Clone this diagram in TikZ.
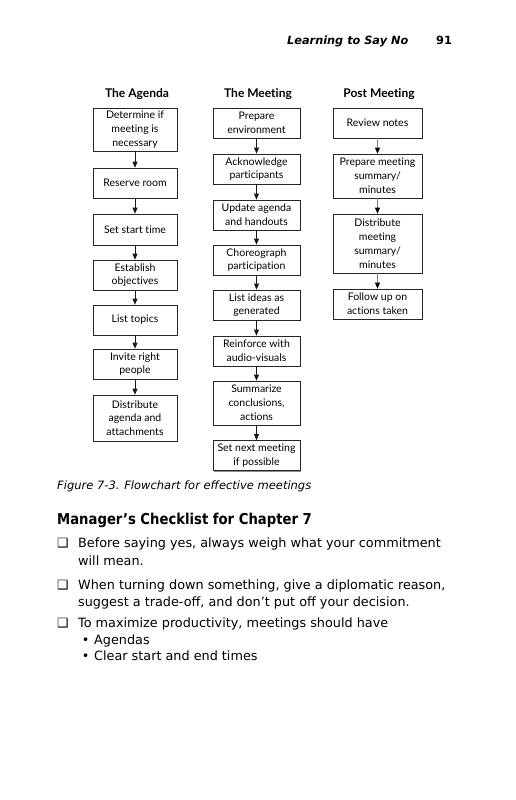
\documentclass[tikz,border=0pt]{standalone}
\usepackage{fontspec}
\setmainfont{DejaVu Sans}
\newfontfamily\boxfont[Ligatures={NoCommon,NoContextual}]{Lato}
\newfontfamily\headfont[FakeStretch=0.88]{DejaVu Sans}
\usetikzlibrary{arrows.meta,shadows}
\begin{document}
\begin{tikzpicture}[x=1pt,y=-1pt,
  fbox/.style={draw=black!85, line width=0.7pt, fill=white, inner sep=0pt, align=center,
    font=\boxfont\fontsize{10.5}{13.8}\selectfont,
    drop shadow={shadow xshift=1.3pt, shadow yshift=-1.3pt, fill=black!45, opacity=1}},
  acol/.style={fbox, minimum width=84pt},
  mcol/.style={fbox, minimum width=87pt},
  pcol/.style={fbox, minimum width=89pt},
  arr/.style={line width=0.8pt, draw=black!90, -{Triangle[width=5pt,length=6pt]}},
  parr/.style={arr, draw=black!50, -{Triangle[width=5pt,length=6pt,fill=black,color=black]}},
  coltitle/.style={anchor=base, inner sep=0pt, font=\boxfont\bfseries\fontsize{12}{14}\selectfont},
  txt/.style={anchor=base west, inner sep=0pt},
  body/.style={txt, font=\fontsize{12.8}{15}\selectfont}
]
\useasboundingbox (0,0) rectangle (516,800);
\fill[white] (0,0) rectangle (516,800);

% running head
\node[txt, font=\bfseries\itshape\fontsize{11.3}{13}\selectfont] (head) at (287,45) {Learning to Say No};
\node[txt, font=\bfseries\fontsize{11.3}{13}\selectfont] (pnum) at (436,45) {91};

% column titles
\node[coltitle] (t1) at (137,97.5) {The Agenda};
\node[coltitle] (t2) at (258,97.5) {The Meeting};
\node[coltitle] (t3) at (379,97.5) {Post Meeting};

% The Agenda
\node[acol, minimum height=43pt] (a1) at (135,129.5) {Determine if\\meeting is\\necessary};
\node[acol, minimum height=30pt] (a2) at (135,183) {Reserve room};
\node[acol, minimum height=31pt] (a3) at (135,229.5) {Set start time};
\node[acol, minimum height=30pt] (a4) at (135,275) {Establish\\objectives};
\node[acol, minimum height=30pt] (a5) at (135,320) {List topics};
\node[acol, minimum height=30pt] (a6) at (135,364) {Invite right\\people};
\node[acol, minimum height=46pt] (a7) at (135,418) {Distribute\\agenda and\\attachments};

% The Meeting
\node[mcol, minimum height=30pt] (m1) at (256.5,123) {Prepare\\environment};
\node[mcol, minimum height=30pt] (m2) at (256.5,169) {Acknowledge\\participants};
\node[mcol, minimum height=30pt] (m3) at (256.5,215) {Update agenda\\and handouts};
\node[mcol, minimum height=30pt] (m4) at (256.5,260) {Choreograph\\participation};
\node[mcol, minimum height=30pt] (m5) at (256.5,305) {List ideas as\\generated};
\node[mcol, minimum height=30pt] (m6) at (256.5,351) {Reinforce with\\audio-visuals};
\node[mcol, minimum height=44pt] (m7) at (256.5,403) {Summarize\\conclusions,\\actions};
\node[mcol, minimum height=30pt] (m8) at (256.5,455.5) {Set next meeting\\if possible};

% Post Meeting
\node[pcol, minimum height=30pt] (p1) at (377.5,123) {Review notes};
\node[pcol, minimum height=44pt] (p2) at (377.5,176) {Prepare meeting\\summary/\\minutes};
\node[pcol, minimum height=59pt] (p3) at (377.5,243.5) {Distribute\\meeting\\summary/\\minutes};
\node[pcol, minimum height=30pt] (p4) at (377.5,304) {Follow up on\\actions taken};

% arrows
\foreach \a/\b in {a1/a2,a2/a3,a3/a4,a4/a5,a5/a6,a6/a7,
                   m1/m2,m2/m3,m3/m4,m4/m5,m5/m6,m6/m7,m7/m8}
  \draw[arr] (\a) -- (\b);
\foreach \a/\b in {p1/p2,p2/p3,p3/p4}
  \draw[parr] (\a) -- (\b);

% caption
\node[txt, font=\itshape\fontsize{11.5}{13}\selectfont] (cap) at (57,489) {Figure 7-3. Flowchart for effective meetings};

% checklist
\node[txt, font=\headfont\bfseries\fontsize{15}{18}\selectfont] (chk) at (57,524) {Manager’s Checklist for Chapter 7};

\node[body] (c1) at (57,547) {❑};
\node[body] (l1) at (78,547) {Before saying yes, always weigh what your commitment};
\node[body] (l2) at (78,565) {will mean.};
\node[body] (c2) at (57,589) {❑};
\node[body] (l3) at (78,589) {When turning down something, give a diplomatic reason,};
\node[body] (l4) at (78,606) {suggest a trade-off, and don’t put off your decision.};
\node[body] (c3) at (57,627) {❑};
\node[body] (l5) at (78,627) {To maximize productivity, meetings should have};
\node[body] (b1) at (81.7,644) {•};
\node[body] (l6) at (94,644) {Agendas};
\node[body] (b2) at (81.7,660) {•};
\node[body] (l7) at (94,660) {Clear start and end times};
\end{tikzpicture}
\end{document}
